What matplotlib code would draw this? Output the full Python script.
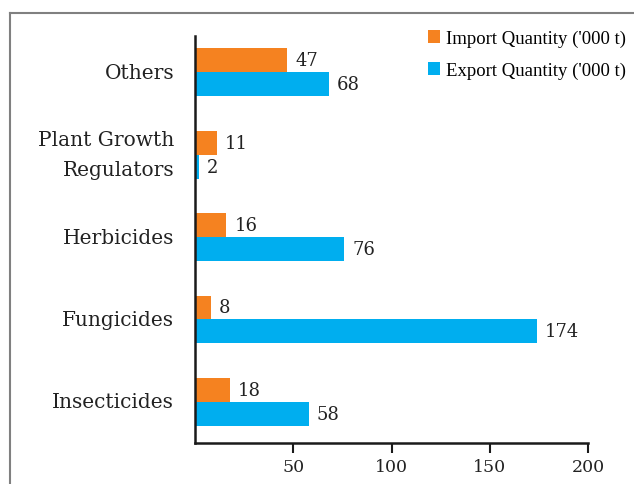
import matplotlib
matplotlib.use("Agg")
import matplotlib.pyplot as plt
from matplotlib.lines import Line2D
from matplotlib.patches import Patch
import numpy as np

categories = ["Insecticides", "Fungicides", "Herbicides", "Plant Growth\nRegulators", "Others"]
import_qty = [18, 8, 16, 11, 47]
export_qty = [58, 174, 76, 2, 68]
series_names = ["Import Quantity ('000 t)", "Export Quantity ('000 t)"]
xticks = [50, 100, 150, 200]

orange = "#F58220"
blue = "#00AEEF"
serif = ["DejaVu Serif"]

fig = plt.figure(figsize=(6.34, 4.85), dpi=100)
ax = fig.add_axes([195/634, (485-444)/485, (588-195)/634, (444-37)/485])

y = np.arange(len(categories))
h = 0.29
ax.barh(y + h/2, import_qty, height=h, color=orange)
ax.barh(y - h/2, export_qty, height=h, color=blue)

for yi, v in zip(y, import_qty):
    ax.text(v + 4, yi + h/2, str(v), va="center", ha="left", fontsize=13,
            family=serif, color="#222222")
for yi, v in zip(y, export_qty):
    ax.text(v + 4, yi - h/2, str(v), va="center", ha="left", fontsize=13,
            family=serif, color="#222222")

ax.set_xlim(0, 200)
ax.set_ylim(-0.5, 4.44)
ax.set_yticks(y)
ax.set_yticklabels(categories, family=serif, fontsize=14.5, color="#222222",
                   linespacing=1.7)
for lbl in ax.get_yticklabels():
    lbl.set_verticalalignment("center")
ax.set_xticks(xticks)
ax.set_xticklabels([str(t) for t in xticks], family=serif, fontsize=12.5, color="#222222")
ax.tick_params(axis="y", length=0, pad=15)
ax.tick_params(axis="x", length=7, width=1.5, direction="out", pad=4, color="#1a1a1a")
for s in ["top", "right"]:
    ax.spines[s].set_visible(False)
for s in ["left", "bottom"]:
    ax.spines[s].set_linewidth(1.8)
    ax.spines[s].set_color("#1a1a1a")

handles = [Patch(facecolor=orange, label=series_names[0]),
           Patch(facecolor=blue, label=series_names[1])]
fig.legend(handles=handles, loc="upper left", bbox_to_anchor=(428/634, 1 - 31/485),
           frameon=False, prop={"family": "Liberation Serif", "size": 13.5},
           borderpad=0, borderaxespad=0,
           handlelength=0.64, handleheight=0.64, handletextpad=0.32, labelspacing=0.78)

fig.add_artist(Line2D([10/634, 10/634], [0, 1 - 14/485], transform=fig.transFigure,
                      color="#808080", lw=1.5))
fig.add_artist(Line2D([10/634, 1], [1 - 14/485, 1 - 14/485], transform=fig.transFigure,
                      color="#808080", lw=1.5))

fig.savefig("out.png", dpi=100)
